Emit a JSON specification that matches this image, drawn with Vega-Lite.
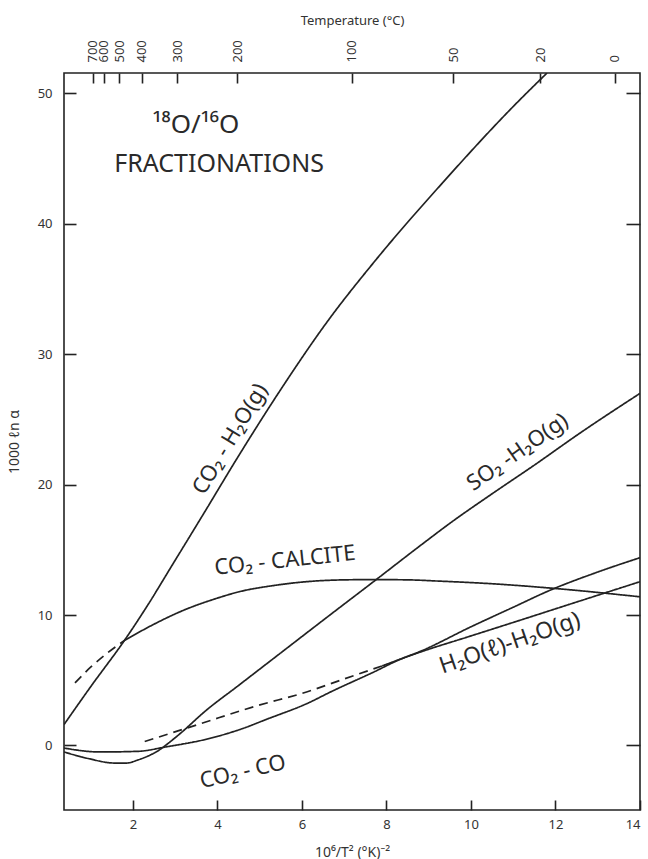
{
  "$schema": "https://vega.github.io/schema/vega-lite/v6.json",
  "width": 576,
  "height": 737,
  "autosize": {"type": "none"},
  "padding": {"left": 64, "top": 73, "right": 8, "bottom": 49},
  "background": "white",
  "config": {
    "font": "Noto Sans",
    "view": {"stroke": "#222", "strokeWidth": 1.6},
    "axis": {
      "domain": false,
      "grid": false,
      "tickColor": "#222",
      "tickWidth": 1.6,
      "labelColor": "#333",
      "titleColor": "#333",
      "labelFont": "Noto Sans",
      "titleFont": "Noto Sans",
      "titleFontWeight": "normal",
      "labelOverlap": false
    },
    "text": {"font": "Noto Sans", "color": "#2a2a2a"}
  },
  "datasets": {
    "curves": [
      {"curve": "CO2-H2O(g)", "basis": "measured", "x": 0.37, "y": 1.6},
      {"curve": "CO2-H2O(g)", "basis": "measured", "x": 1.0, "y": 4.5},
      {"curve": "CO2-H2O(g)", "basis": "measured", "x": 1.81, "y": 8.1},
      {"curve": "CO2-H2O(g)", "basis": "measured", "x": 2.28, "y": 10.4},
      {"curve": "CO2-H2O(g)", "basis": "measured", "x": 3.0, "y": 14.2},
      {"curve": "CO2-H2O(g)", "basis": "measured", "x": 3.66, "y": 17.7},
      {"curve": "CO2-H2O(g)", "basis": "measured", "x": 4.5, "y": 22.2},
      {"curve": "CO2-H2O(g)", "basis": "measured", "x": 5.54, "y": 27.5},
      {"curve": "CO2-H2O(g)", "basis": "measured", "x": 6.6, "y": 32.5},
      {"curve": "CO2-H2O(g)", "basis": "measured", "x": 7.74, "y": 37.2},
      {"curve": "CO2-H2O(g)", "basis": "measured", "x": 9.37, "y": 43.3},
      {"curve": "CO2-H2O(g)", "basis": "measured", "x": 11.0, "y": 49.0},
      {"curve": "CO2-H2O(g)", "basis": "measured", "x": 11.8, "y": 51.57},

      {"curve": "SO2-H2O(g)", "basis": "measured", "x": 0.37, "y": -0.5},
      {"curve": "SO2-H2O(g)", "basis": "measured", "x": 0.94, "y": -1.0},
      {"curve": "SO2-H2O(g)", "basis": "measured", "x": 1.57, "y": -1.35},
      {"curve": "SO2-H2O(g)", "basis": "measured", "x": 1.85, "y": -1.35},
      {"curve": "SO2-H2O(g)", "basis": "measured", "x": 2.13, "y": -1.1},
      {"curve": "SO2-H2O(g)", "basis": "measured", "x": 2.4, "y": -0.75},
      {"curve": "SO2-H2O(g)", "basis": "measured", "x": 2.6, "y": -0.4},
      {"curve": "SO2-H2O(g)", "basis": "measured", "x": 2.85, "y": 0.2},
      {"curve": "SO2-H2O(g)", "basis": "measured", "x": 3.15, "y": 1.0},
      {"curve": "SO2-H2O(g)", "basis": "measured", "x": 3.7, "y": 2.6},
      {"curve": "SO2-H2O(g)", "basis": "measured", "x": 4.5, "y": 4.6},
      {"curve": "SO2-H2O(g)", "basis": "measured", "x": 5.5, "y": 7.1},
      {"curve": "SO2-H2O(g)", "basis": "measured", "x": 6.5, "y": 9.6},
      {"curve": "SO2-H2O(g)", "basis": "measured", "x": 7.75, "y": 12.7},
      {"curve": "SO2-H2O(g)", "basis": "measured", "x": 8.79, "y": 15.3},
      {"curve": "SO2-H2O(g)", "basis": "measured", "x": 9.57, "y": 17.2},
      {"curve": "SO2-H2O(g)", "basis": "measured", "x": 10.5, "y": 19.3},
      {"curve": "SO2-H2O(g)", "basis": "measured", "x": 11.5, "y": 21.5},
      {"curve": "SO2-H2O(g)", "basis": "measured", "x": 12.6, "y": 24.0},
      {"curve": "SO2-H2O(g)", "basis": "measured", "x": 14.0, "y": 27.0},

      {"curve": "CO2-CO", "basis": "measured", "x": 0.37, "y": -0.2},
      {"curve": "CO2-CO", "basis": "measured", "x": 1.22, "y": -0.5},
      {"curve": "CO2-CO", "basis": "measured", "x": 2.12, "y": -0.45},
      {"curve": "CO2-CO", "basis": "measured", "x": 2.8, "y": -0.1},
      {"curve": "CO2-CO", "basis": "measured", "x": 3.7, "y": 0.45},
      {"curve": "CO2-CO", "basis": "measured", "x": 4.6, "y": 1.3},
      {"curve": "CO2-CO", "basis": "measured", "x": 5.16, "y": 2.0},
      {"curve": "CO2-CO", "basis": "measured", "x": 6.11, "y": 3.2},
      {"curve": "CO2-CO", "basis": "measured", "x": 6.74, "y": 4.2},
      {"curve": "CO2-CO", "basis": "measured", "x": 7.68, "y": 5.6},
      {"curve": "CO2-CO", "basis": "measured", "x": 8.32, "y": 6.6},
      {"curve": "CO2-CO", "basis": "measured", "x": 8.79, "y": 7.2},
      {"curve": "CO2-CO", "basis": "measured", "x": 10.0, "y": 9.1},
      {"curve": "CO2-CO", "basis": "measured", "x": 11.0, "y": 10.6},
      {"curve": "CO2-CO", "basis": "measured", "x": 11.87, "y": 11.9},
      {"curve": "CO2-CO", "basis": "measured", "x": 13.0, "y": 13.3},
      {"curve": "CO2-CO", "basis": "measured", "x": 14.0, "y": 14.4},

      {"curve": "H2O(l)-H2O(g)", "basis": "extrapolated", "x": 2.28, "y": 0.3},
      {"curve": "H2O(l)-H2O(g)", "basis": "extrapolated", "x": 3.63, "y": 1.7},
      {"curve": "H2O(l)-H2O(g)", "basis": "extrapolated", "x": 4.89, "y": 3.0},
      {"curve": "H2O(l)-H2O(g)", "basis": "extrapolated", "x": 6.11, "y": 4.1},
      {"curve": "H2O(l)-H2O(g)", "basis": "extrapolated", "x": 7.0, "y": 5.1},
      {"curve": "H2O(l)-H2O(g)", "basis": "extrapolated", "x": 7.9, "y": 6.1},
      {"curve": "H2O(l)-H2O(g)", "basis": "measured", "x": 7.9, "y": 6.1},
      {"curve": "H2O(l)-H2O(g)", "basis": "measured", "x": 8.79, "y": 7.15},
      {"curve": "H2O(l)-H2O(g)", "basis": "measured", "x": 10.0, "y": 8.4},
      {"curve": "H2O(l)-H2O(g)", "basis": "measured", "x": 11.16, "y": 9.6},
      {"curve": "H2O(l)-H2O(g)", "basis": "measured", "x": 12.5, "y": 11.0},
      {"curve": "H2O(l)-H2O(g)", "basis": "measured", "x": 14.0, "y": 12.56},

      {"curve": "CO2-CALCITE", "basis": "extrapolated", "x": 0.63, "y": 4.8},
      {"curve": "CO2-CALCITE", "basis": "extrapolated", "x": 1.0, "y": 6.0},
      {"curve": "CO2-CALCITE", "basis": "extrapolated", "x": 1.4, "y": 7.1},
      {"curve": "CO2-CALCITE", "basis": "extrapolated", "x": 1.8, "y": 8.05},
      {"curve": "CO2-CALCITE", "basis": "measured", "x": 1.8, "y": 8.05},
      {"curve": "CO2-CALCITE", "basis": "measured", "x": 2.5, "y": 9.3},
      {"curve": "CO2-CALCITE", "basis": "measured", "x": 3.15, "y": 10.3},
      {"curve": "CO2-CALCITE", "basis": "measured", "x": 4.0, "y": 11.3},
      {"curve": "CO2-CALCITE", "basis": "measured", "x": 4.53, "y": 11.8},
      {"curve": "CO2-CALCITE", "basis": "measured", "x": 5.3, "y": 12.25},
      {"curve": "CO2-CALCITE", "basis": "measured", "x": 6.11, "y": 12.56},
      {"curve": "CO2-CALCITE", "basis": "measured", "x": 7.0, "y": 12.7},
      {"curve": "CO2-CALCITE", "basis": "measured", "x": 7.7, "y": 12.72},
      {"curve": "CO2-CALCITE", "basis": "measured", "x": 8.5, "y": 12.7},
      {"curve": "CO2-CALCITE", "basis": "measured", "x": 9.27, "y": 12.6},
      {"curve": "CO2-CALCITE", "basis": "measured", "x": 10.5, "y": 12.4},
      {"curve": "CO2-CALCITE", "basis": "measured", "x": 11.95, "y": 12.05},
      {"curve": "CO2-CALCITE", "basis": "measured", "x": 14.0, "y": 11.4}
    ]
  },
  "layer": [
    {
      "data": {"name": "curves"},
      "mark": {"type": "line", "interpolate": "monotone", "strokeWidth": 1.7, "color": "#222", "clip": true},
      "encoding": {
        "x": {
          "field": "x", "type": "quantitative",
          "scale": {"domain": [0.37, 14], "nice": false, "zero": false},
          "axis": {
            "orient": "bottom", "values": [2, 4, 6, 8, 10, 12, 14],
            "tickSize": -10, "labelPadding": 18, "labelFontSize": 13,
            "title": "10⁶/T²  (°K)⁻²", "titleFontSize": 14, "titlePadding": 14
          }
        },
        "y": {
          "field": "y", "type": "quantitative",
          "scale": {"domain": [-4.95, 51.57], "nice": false, "zero": false},
          "axis": {
            "orient": "left", "values": [0, 10, 20, 30, 40, 50],
            "tickSize": -12, "labelPadding": 24, "labelFontSize": 13,
            "title": "1000 ℓn α", "titleFontSize": 14, "titlePadding": 16
          }
        },
        "detail": {"field": "curve"},
        "strokeDash": {
          "field": "basis", "type": "nominal",
          "scale": {"domain": ["measured", "extrapolated"], "range": [[1, 0], [9, 6]]},
          "legend": null
        }
      }
    },
    {
      "data": {"name": "curves"},
      "mark": {"type": "point", "opacity": 0},
      "encoding": {
        "x": {
          "field": "x", "type": "quantitative",
          "axis": {
            "orient": "top",
            "values": [1.05594, 1.31167, 1.67291, 2.20687, 3.04413, 4.46686, 7.1818, 9.57617, 11.63645, 13.40287],
            "labelExpr": "toString(abs(round(sqrt(1000000 / datum.value) - 273.15)))",
            "labelAngle": -90, "labelFontSize": 13, "labelPadding": 21,
            "tickSize": -10,
            "title": "Temperature (°C)", "titleFontSize": 13, "titlePadding": 12
          }
        },
        "y": {
          "field": "y", "type": "quantitative",
          "axis": {"orient": "right", "values": [0, 10, 20, 30, 40, 50], "tickSize": -14, "labels": false, "title": null}
        }
      }
    },
    {
      "data": {"values": [{"label": "¹⁸O/¹⁶O", "x": 3.49, "y": 47.0}]},
      "mark": {"type": "text", "fontSize": 26, "align": "center", "baseline": "alphabetic"},
      "encoding": {"x": {"field": "x", "type": "quantitative", "axis": null}, "y": {"field": "y", "type": "quantitative", "axis": null}, "text": {"field": "label"}}
    },
    {
      "data": {"values": [{"label": "FRACTIONATIONS", "x": 4.04, "y": 44.0}]},
      "mark": {"type": "text", "fontSize": 25, "align": "center", "baseline": "alphabetic"},
      "encoding": {"x": {"field": "x", "type": "quantitative", "axis": null}, "y": {"field": "y", "type": "quantitative", "axis": null}, "text": {"field": "label"}}
    },
    {
      "data": {"values": [{"label": "CO₂ - H₂O(g)", "x": 4.3, "y": 23.5}]},
      "mark": {"type": "text", "fontSize": 22, "angle": -59, "align": "center", "baseline": "middle"},
      "encoding": {"x": {"field": "x", "type": "quantitative", "axis": null}, "y": {"field": "y", "type": "quantitative", "axis": null}, "text": {"field": "label"}}
    },
    {
      "data": {"values": [{"label": "SO₂ -H₂O(g)", "x": 11.1, "y": 22.5}]},
      "mark": {"type": "text", "fontSize": 22, "angle": -35, "align": "center", "baseline": "middle"},
      "encoding": {"x": {"field": "x", "type": "quantitative", "axis": null}, "y": {"field": "y", "type": "quantitative", "axis": null}, "text": {"field": "label"}}
    },
    {
      "data": {"values": [{"label": "CO₂ - CALCITE", "x": 5.6, "y": 14.2}]},
      "mark": {"type": "text", "fontSize": 22, "angle": -6, "align": "center", "baseline": "middle"},
      "encoding": {"x": {"field": "x", "type": "quantitative", "axis": null}, "y": {"field": "y", "type": "quantitative", "axis": null}, "text": {"field": "label"}}
    },
    {
      "data": {"values": [{"label": "CO₂ - CO", "x": 4.6, "y": -2.0}]},
      "mark": {"type": "text", "fontSize": 22, "angle": -13, "align": "center", "baseline": "middle"},
      "encoding": {"x": {"field": "x", "type": "quantitative", "axis": null}, "y": {"field": "y", "type": "quantitative", "axis": null}, "text": {"field": "label"}}
    },
    {
      "data": {"values": [{"label": "H₂O(ℓ)-H₂O(g)", "x": 10.92, "y": 7.84}]},
      "mark": {"type": "text", "fontSize": 23, "angle": -19, "align": "center", "baseline": "middle"},
      "encoding": {"x": {"field": "x", "type": "quantitative", "axis": null}, "y": {"field": "y", "type": "quantitative", "axis": null}, "text": {"field": "label"}}
    }
  ],
  "resolve": {"axis": {"x": "independent", "y": "independent"}}
}
